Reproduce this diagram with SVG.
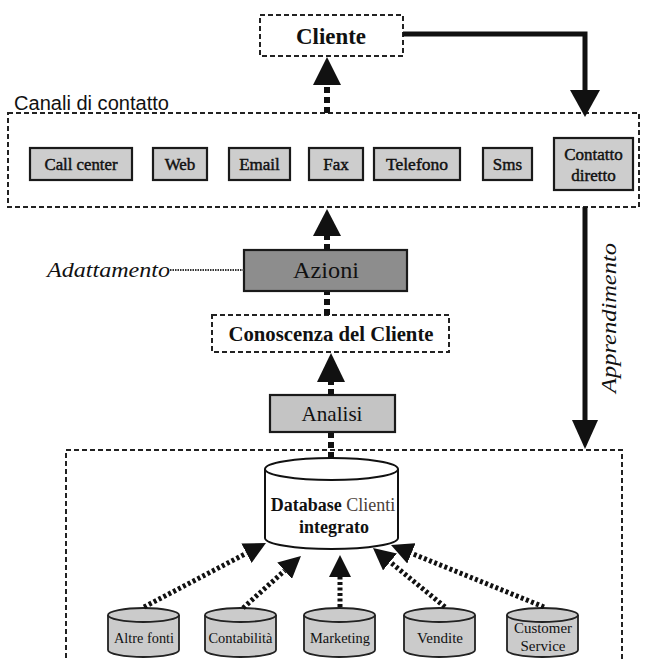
<svg xmlns="http://www.w3.org/2000/svg" width="646" height="661" viewBox="0 0 646 661">
<defs>
<style>
.dbox{fill:none;stroke:#222;stroke-width:2;stroke-dasharray:5 3}
.ch{fill:#cdcdcd;stroke:#1a1a1a;stroke-width:2.2}
.t{font-family:"Liberation Serif","Times New Roman",serif;fill:#111;text-anchor:middle}
.b{font-weight:bold}
.m{stroke:#111;stroke-width:0.45}
.vd{stroke:#111;stroke-width:6;stroke-dasharray:6 4;fill:none}
.dot{stroke:#111;stroke-width:5;stroke-dasharray:3 2.5;fill:none}
.solid{stroke:#111;stroke-width:5;fill:none}
.head{fill:#111}
.cyl{fill:#cbcbcb;stroke:#222;stroke-width:1.8}
</style>
<marker id="tri" markerUnits="userSpaceOnUse" markerWidth="22" markerHeight="22" refX="0" refY="11" orient="auto" viewBox="0 0 22 22">
<path d="M0,0 L22,11 L0,22 z" fill="#111"/>
</marker>
</defs>
<rect width="646" height="661" fill="#fff"/>

<g id="cliente">
<rect class="dbox" x="260" y="15" width="143" height="41"/>
<text class="t b" x="331" y="44" font-size="23" textLength="70" lengthAdjust="spacingAndGlyphs">Cliente</text>
</g>

<g id="canali">
<rect class="dbox" x="8" y="113" width="631" height="94"/>
<text x="14" y="110" font-family="Liberation Sans, Arial, sans-serif" font-size="20" fill="#111" textLength="155" lengthAdjust="spacingAndGlyphs">Canali di contatto</text>
</g>
<g id="callcenter"><rect class="ch" x="30" y="148" width="102" height="32"/><text class="t m" x="81" y="170" font-size="17" textLength="73" lengthAdjust="spacingAndGlyphs">Call center</text></g>
<g id="web"><rect class="ch" x="153" y="148" width="54" height="32"/><text class="t m" x="180" y="170" font-size="17">Web</text></g>
<g id="email"><rect class="ch" x="229" y="148" width="61" height="32"/><text class="t m" x="259.5" y="170" font-size="17">Email</text></g>
<g id="fax"><rect class="ch" x="309" y="148" width="54" height="32"/><text class="t m" x="336" y="170" font-size="17">Fax</text></g>
<g id="telefono"><rect class="ch" x="374" y="148" width="86" height="32"/><text class="t m" x="417" y="170" font-size="17" textLength="62" lengthAdjust="spacingAndGlyphs">Telefono</text></g>
<g id="sms"><rect class="ch" x="483" y="148" width="49" height="32"/><text class="t m" x="507.5" y="170" font-size="17">Sms</text></g>
<g id="contatto"><rect class="ch" x="554" y="138" width="79" height="52" stroke-width="2.8"/><text class="t m" x="593.5" y="160" font-size="17">Contatto</text><text class="t m" x="593.5" y="181" font-size="17">diretto</text></g>

<g id="azioni">
<rect x="244" y="250" width="163" height="41" fill="#8d8d8d" stroke="#1a1a1a" stroke-width="2.2"/>
<text class="t" x="326" y="278" font-size="23" fill="#222" textLength="66" lengthAdjust="spacingAndGlyphs">Azioni</text>
</g>
<g id="adattamento">
<text x="47" y="277" font-family="Liberation Serif, Times New Roman, serif" font-style="italic" font-size="22" fill="#111" textLength="123" lengthAdjust="spacingAndGlyphs">Adattamento</text>
</g>

<g id="conoscenza">
<rect class="dbox" x="212" y="315" width="237" height="37"/>
<text class="t b" x="331" y="341" font-size="20" textLength="205" lengthAdjust="spacingAndGlyphs">Conoscenza del Cliente</text>
</g>

<g id="analisi">
<rect x="270" y="395" width="125" height="37" fill="#c4c4c4" stroke="#1a1a1a" stroke-width="2.2"/>
<text class="t" x="332" y="421" font-size="21" fill="#222" textLength="61" lengthAdjust="spacingAndGlyphs">Analisi</text>
</g>

<g id="apprendimento">
<text x="0" y="0" transform="translate(616,318) rotate(-90)" font-family="Liberation Serif, Times New Roman, serif" font-style="italic" font-size="22" fill="#111" text-anchor="middle" textLength="150" lengthAdjust="spacingAndGlyphs">Apprendimento</text>
</g>

<g id="database-area">
<rect class="dbox" x="66" y="450" width="556" height="260"/>
</g>

<g id="database">
<path d="M265,469 V538 A66.5,11 0 0 0 398,538 V469" fill="#fff" stroke="#111" stroke-width="2"/>
<ellipse cx="331.5" cy="469" rx="66.5" ry="11" fill="#fff" stroke="#111" stroke-width="2"/>
<text class="t" x="333" y="511" font-size="18"><tspan font-weight="bold">Database</tspan> <tspan fill="#4a403a">Clienti</tspan></text>
<text class="t b" x="334" y="533" font-size="18">integrato</text>
</g>

<g id="altre-fonti">
<path class="cyl" d="M108,615 V650 A35.5,7 0 0 0 179,650 V615"/>
<ellipse class="cyl" cx="143.5" cy="615" rx="35.5" ry="7"/>
<text class="t" x="144" y="643" font-size="15" textLength="60" lengthAdjust="spacingAndGlyphs">Altre fonti</text>
</g>
<g id="contabilita">
<path class="cyl" d="M205,615 V650 A35.5,7 0 0 0 276,650 V615"/>
<ellipse class="cyl" cx="240.5" cy="615" rx="35.5" ry="7"/>
<text class="t" x="240.5" y="643" font-size="15" textLength="64" lengthAdjust="spacingAndGlyphs">Contabilità</text>
</g>
<g id="marketing">
<path class="cyl" d="M304,615 V650 A35.5,7 0 0 0 375,650 V615"/>
<ellipse class="cyl" cx="339.5" cy="615" rx="35.5" ry="7"/>
<text class="t" x="340" y="643" font-size="15" textLength="60" lengthAdjust="spacingAndGlyphs">Marketing</text>
</g>
<g id="vendite">
<path class="cyl" d="M404,615 V650 A35.5,7 0 0 0 475,650 V615"/>
<ellipse class="cyl" cx="439.5" cy="615" rx="35.5" ry="7"/>
<text class="t" x="440" y="643" font-size="15" textLength="46" lengthAdjust="spacingAndGlyphs">Vendite</text>
</g>
<g id="customer-service">
<path class="cyl" d="M507,615 V650 A35.5,7 0 0 0 578,650 V615"/>
<ellipse class="cyl" cx="542.5" cy="615" rx="35.5" ry="7"/>
<text class="t" x="543" y="633" font-size="15" textLength="58" lengthAdjust="spacingAndGlyphs">Customer</text>
<text class="t" x="543" y="651" font-size="15">Service</text>
</g>

<g id="connectors">
<line class="vd" x1="327" y1="113" x2="327" y2="84"/>
<polygon class="head" points="313,85 341,85 327,57"/>
<path class="solid" d="M403,34 H585 V92"/>
<polygon class="head" points="570,90 600,90 585,117"/>
<line class="vd" x1="327" y1="250" x2="327" y2="235"/>
<polygon class="head" points="313,236 341,236 327,209"/>
<line x1="170" y1="270" x2="244" y2="270" stroke="#333" stroke-width="2" stroke-dasharray="1.5 1"/>
<line class="vd" x1="327" y1="315" x2="327" y2="292"/>
<line class="vd" x1="331" y1="395" x2="331" y2="381"/>
<polygon class="head" points="317,382 345,382 331,353"/>
<line class="vd" x1="331" y1="458" x2="331" y2="433"/>
<line class="solid" x1="585" y1="207" x2="585" y2="422"/>
<polygon class="head" points="572,420 598,420 585,449"/>
<line class="dot" x1="144" y1="607" x2="246.5" y2="553.2" marker-end="url(#tri)"/>
<line class="dot" x1="243" y1="608" x2="284.6" y2="570.7" marker-end="url(#tri)"/>
<line class="dot" x1="340" y1="607" x2="340" y2="577" marker-end="url(#tri)"/>
<line class="dot" x1="445" y1="607" x2="390" y2="561.9" marker-end="url(#tri)"/>
<line class="dot" x1="544" y1="607" x2="411.4" y2="553.3" marker-end="url(#tri)"/>
</g>
</svg>
